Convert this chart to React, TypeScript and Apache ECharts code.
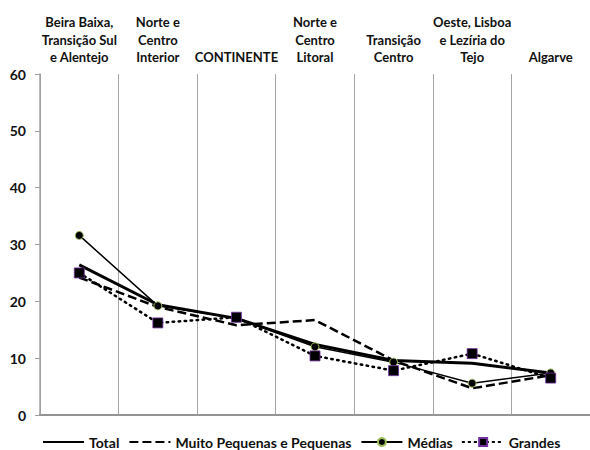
import React, { useEffect, useRef } from "react";
import * as echarts from "echarts";

const categories = [
  "Beira Baixa,\nTransição Sul\ne Alentejo",
  "Norte e\nCentro\nInterior",
  "CONTINENTE",
  "Norte e\nCentro\nLitoral",
  "Transição\nCentro",
  "Oeste, Lisboa\ne Lezíria do\nTejo",
  "Algarve",
];
const total = [26.4, 19.4, 17.0, 12.4, 9.6, 9.1, 7.4];
const muitoPequenas = [24.2, 19.0, 15.8, 16.7, 9.6, 4.7, 7.0];
const medias = [31.6, 19.2, 17.0, 12.0, 9.3, 5.6, 7.4];
const grandes = [25.0, 16.2, 17.2, 10.4, 7.8, 10.8, 6.5];

const yMin = 0;
const yMax = 60;
const yInterval = 10;

const FONT = "Lato, 'Open Sans', sans-serif";

export default function App() {
  const ref = useRef<HTMLDivElement>(null);
  useEffect(() => {
    if (!ref.current) return;
    const chart = echarts.init(ref.current, undefined, { renderer: "svg" });
    chart.setOption({
      animation: false,
      backgroundColor: "#ffffff",
      textStyle: { fontFamily: FONT },
      grid: { left: 40, right: -3, top: 74, bottom: 35, containLabel: false },
      legend: {
        left: 37,
        top: 430,
        itemWidth: 41,
        itemHeight: 10,
        itemGap: 9,
        textStyle: {
          fontFamily: FONT,
          fontSize: 14,
          fontWeight: "bold",
          color: "#111",
        },
        data: [
          { name: "Total", itemStyle: { opacity: 0 } },
          { name: "Muito Pequenas e Pequenas", itemStyle: { opacity: 0 } },
          { name: "Médias" },
          { name: "Grandes" },
        ],
      },
      xAxis: [
        {
          type: "category",
          position: "top",
          data: categories,
          boundaryGap: true,
          axisLine: { show: true, lineStyle: { color: "#404040", width: 1.5 } },
          axisTick: { show: true, length: 3, lineStyle: { color: "#a0a0a0" } },
          axisLabel: {
            interval: 0,
            margin: 8,
            fontFamily: FONT,
            fontSize: 13,
            fontWeight: "bold",
            color: "#111",
            lineHeight: 17.5,
            verticalAlign: "bottom",
          },
          splitLine: { show: true, lineStyle: { color: "#a6a6a6", width: 1 } },
        },
        {
          type: "category",
          position: "bottom",
          data: categories,
          boundaryGap: true,
          axisLine: { show: true, lineStyle: { color: "#a0a0a0", width: 1.5 } },
          axisTick: { show: false },
          axisLabel: { show: false },
          splitLine: { show: false },
        },
      ],
      yAxis: {
        type: "value",
        min: yMin,
        max: yMax,
        interval: yInterval,
        axisLine: { show: true, lineStyle: { color: "#a0a0a0", width: 1.5 } },
        axisTick: { show: true, length: 5, lineStyle: { color: "#a0a0a0" } },
        axisLabel: {
          margin: 14,
          fontFamily: FONT,
          fontSize: 14,
          fontWeight: "bold",
          color: "#111",
        },
        splitLine: { show: false },
      },
      series: [
        {
          name: "Total",
          type: "line",
          data: total,
          symbol: "none",
          lineStyle: { color: "#000", width: 3 },
          itemStyle: { color: "#000" },
          z: 2,
        },
        {
          name: "Muito Pequenas e Pequenas",
          type: "line",
          data: muitoPequenas,
          symbol: "none",
          lineStyle: { color: "#000", width: 2.5, type: [9, 4] },
          itemStyle: { color: "#000" },
          z: 3,
        },
        {
          name: "Médias",
          type: "line",
          data: medias,
          symbol: "circle",
          symbolSize: 8,
          lineStyle: { color: "#000", width: 1.5 },
          itemStyle: { color: "#000", borderColor: "#9BBB59", borderWidth: 1 },
          z: 4,
        },
        {
          name: "Grandes",
          type: "line",
          data: grandes,
          symbol: "rect",
          symbolSize: 10,
          lineStyle: { color: "#000", width: 2.5, type: [1.5, 4.5], cap: "round" },
          itemStyle: { color: "#000", borderColor: "#7030A0", borderWidth: 0.8 },
          z: 5,
        },
      ],
    });
    return () => chart.dispose();
  }, []);
  return (
    <div
      ref={ref}
      style={{ position: "fixed", left: 0, top: 0, width: 590, height: 450 }}
    />
  );
}
